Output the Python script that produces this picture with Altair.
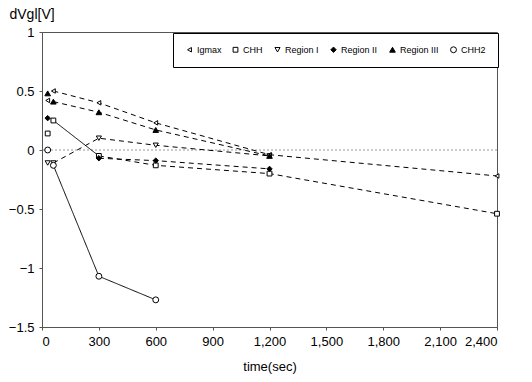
import altair as alt
import pandas as pd

series = ["Igmax", "CHH", "Region I", "Region II", "Region III", "CHH2"]

igmax_t = [30, 60, 300, 600, 1200, 2400]
igmax_v = [0.42, 0.50, 0.40, 0.23, -0.04, -0.22]
chh_t = [30, 60, 300, 600, 1200, 2400]
chh_v = [0.14, 0.25, -0.05, -0.13, -0.20, -0.54]
r1_t = [30, 60, 300, 600, 1200]
r1_v = [-0.11, -0.11, 0.10, 0.04, -0.05]
r2_t = [30, 300, 600, 1200]
r2_v = [0.27, -0.07, -0.09, -0.16]
r3_t = [30, 60, 300, 600, 1200]
r3_v = [0.48, 0.41, 0.32, 0.17, -0.05]
chh2_t = [30, 60, 300, 600]
chh2_v = [0.0, -0.13, -1.07, -1.27]

x_ticks = [0, 300, 600, 900, 1200, 1500, 1800, 2100, 2400]
y_ticks = [-1.5, -1, -0.5, 0, 0.5, 1]

shapes = ["triangle-left", "square", "triangle-down", "diamond", "triangle-up", "circle"]
fills = ["white", "white", "white", "black", "black", "white"]
strokes = ["black"] * 6
sizes = [20, 35, 90, 60, 90, 110]

pts = []
for name, ts, vs in [("Igmax", igmax_t, igmax_v), ("CHH", chh_t, chh_v),
                     ("Region I", r1_t, r1_v), ("Region II", r2_t, r2_v),
                     ("Region III", r3_t, r3_v), ("CHH2", chh2_t, chh2_v)]:
    for t, v in zip(ts, vs):
        pts.append({"series": name, "t": t, "v": v})
pts_df = pd.DataFrame(pts)

# line segments: (series, segment id, style, times, values)
segs = [
    ("Igmax", "a", "dash", igmax_t[1:], igmax_v[1:]),
    ("CHH", "a", "solid", chh_t[1:3], chh_v[1:3]),
    ("CHH", "b", "dash", chh_t[2:], chh_v[2:]),
    ("Region I", "a", "dash", r1_t[1:], r1_v[1:]),
    ("Region II", "a", "dash", r2_t[1:], r2_v[1:]),
    ("Region III", "a", "dash", r3_t[1:], r3_v[1:]),
    ("CHH2", "a", "solid", chh2_t[1:], chh2_v[1:]),
]
rows = []
for name, sid, style, ts, vs in segs:
    for t, v in zip(ts, vs):
        rows.append({"seg": name + sid, "style": style, "t": t, "v": v})
line_df = pd.DataFrame(rows)

xscale = alt.Scale(domain=[0, 2400], nice=False, zero=False)
yscale = alt.Scale(domain=[-1.5, 1], nice=False, zero=False)

xenc = alt.X("t:Q", scale=xscale, axis=alt.Axis(
    values=x_ticks, format=",d", title="time(sec)", titleFontSize=13,
    titleFontWeight="normal", titlePadding=12, labelFontSize=13, labelPadding=5,
    tickSize=3, grid=False, domainColor="#555", tickColor="#555"))
yenc = alt.Y("v:Q", scale=yscale, axis=alt.Axis(
    values=y_ticks, format="~g", title="dVgl[V]", titleFontSize=14,
    titleFontWeight="normal", titleAngle=0, titleAlign="left",
    titleBaseline="bottom", titleX=-33, titleY=-11, labelFontSize=13,
    labelPadding=5, tickSize=3, grid=False, domainColor="#555", tickColor="#555"))

zero = alt.Chart(pd.DataFrame({"z": [0]})).mark_rule(
    color="#999", strokeDash=[2, 2], strokeWidth=1).encode(y=alt.Y("z:Q", scale=yscale))

lines = alt.Chart(line_df).mark_line(color="black", strokeWidth=1).encode(
    x=xenc, y=yenc, detail="seg:N",
    strokeDash=alt.StrokeDash("style:N", scale=alt.Scale(
        domain=["dash", "solid"], range=[[5, 4], [1, 0]]), legend=None))

points = alt.Chart(pts_df).mark_point(strokeWidth=1, opacity=1).encode(
    x=xenc, y=yenc,
    shape=alt.Shape("series:N", scale=alt.Scale(domain=series, range=shapes), title=None),
    fill=alt.Fill("series:N", scale=alt.Scale(domain=series, range=fills), title=None),
    stroke=alt.Stroke("series:N", scale=alt.Scale(domain=series, range=strokes), title=None),
    size=alt.Size("series:N", scale=alt.Scale(domain=series, range=sizes), title=None),
)

chart = alt.layer(zero, lines, points).properties(
    width=455, height=295,
    autosize=alt.AutoSizeParams(type="none"),
    padding={"left": 42, "top": 32, "right": 35, "bottom": 55},
).configure_view(stroke="#555").configure_axis(
    labelFont="Liberation Sans", titleFont="Liberation Sans", labelColor="black", titleColor="black"
).configure_legend(
    orient="none", legendX=131, legendY=1, direction="horizontal", columns=6,
    strokeColor="black", fillColor="white", padding=12, labelFontSize=9,
    labelFont="Liberation Sans", columnPadding=9, symbolStrokeColor="black",
    symbolStrokeWidth=1, labelOffset=3
)

chart.save("out.html", embed_options={"renderer": "svg", "actions": False})
